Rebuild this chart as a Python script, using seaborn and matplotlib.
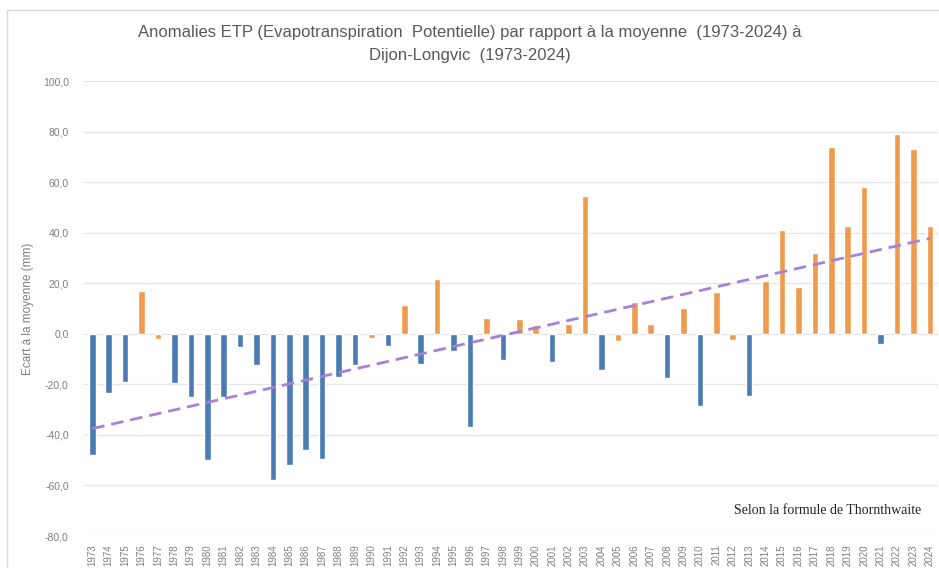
import seaborn as sns
import matplotlib.pyplot as plt
import matplotlib.patches as mpatches
import pandas as pd
import numpy as np

# ETP anomalies (mm) vs 1973-2024 mean, Dijon-Longvic
years = list(range(1973, 2025))
anomalies = [-48, -23.5, -19, 17, -2, -19.5, -25, -50, -25, -5,
             -12.5, -57.7, -52, -46, -49.5, -17, -12.5, -1.5, -4.7, 11.5,
             -12, 21.7, -6.7, -36.8, 6.3, -10.3, 6, 3.7, -11, 4,
             54.5, -14.3, -3, 12.6, 4, -17.5, 10.2, -28.5, 16.5, -2.5,
             -24.5, 21, 41, 18.6, 32, 74, 42.6, 58, -4, 79,
             73, 42.6]
# colour group as in the original (a few small negatives are drawn orange)
orange_years = [1976, 1977, 1990, 1992, 1994, 1997, 1999, 2000, 2002, 2003,
                2005, 2006, 2007, 2009, 2011, 2012, 2014, 2015, 2016, 2017,
                2018, 2019, 2020, 2022, 2023, 2024]

df = pd.DataFrame({'year': [str(y) for y in years], 'ecart': anomalies})
df['groupe'] = ['chaud' if y in orange_years else 'frais' for y in years]
df['pos'] = np.arange(len(df))

sns.set_theme(style="white")
plt.rcParams['font.family'] = ['Liberation Sans Narrow', 'Liberation Sans', 'DejaVu Sans']

fig = plt.figure(figsize=(9.39, 5.68), dpi=100)
ax = fig.add_axes([0.0895, 0.0563, 0.9095, 0.8007])

# grid behind bars
for v in np.arange(-80, 101, 20):
    ax.axhline(v, color='#e4e4e4', lw=0.9, zorder=0)

sns.barplot(data=df, x='year', y='ecart', hue='groupe',
            palette={'chaud': '#ef9b4f', 'frais': '#4b7bb3'}, saturation=1,
            dodge=False, width=0.4, legend=False, ax=ax, zorder=2)

# linear trend line
sns.regplot(data=df, x='pos', y='ecart', scatter=False, ci=None, ax=ax,
            line_kws=dict(color='#a880d8', lw=2, ls=(0, (4.5, 2.5)), zorder=3))

ax.set_ylim(-80, 100)
ax.set_xlim(-0.5, len(df) - 0.5)
ax.set_yticks(np.arange(-80, 101, 20))
ax.set_yticklabels([f"{v:.1f}".replace('.', ',') for v in np.arange(-80, 101, 20)],
                   fontsize=7.5, color='#7f7f7f')
ax.set_xticks(range(len(df)))
ax.set_xticklabels(df['year'], rotation=90, fontsize=7, color='#7f7f7f')
ax.tick_params(axis='y', length=0, pad=11)
ax.tick_params(axis='x', length=0, pad=6)
ax.set_xlabel('')
ax.set_ylabel('Ecart à la moyenne (mm)', fontsize=8.5, color='#7f7f7f', labelpad=6)
for s in ax.spines.values():
    s.set_visible(False)

fig.text(0.5, 0.942, 'Anomalies ETP (Evapotranspiration  Potentielle) par rapport à la moyenne  (1973-2024) à',
         ha='center', va='center', fontsize=12, color='#595959')
fig.text(0.5, 0.903, 'Dijon-Longvic  (1973-2024)', ha='center', va='center',
         fontsize=12, color='#595959')
ax.text(0.98, 0.057, 'Selon la formule de Thornthwaite', transform=ax.transAxes,
        ha='right', va='center', fontsize=10, color='#222222',
        family=['Liberation Serif', 'DejaVu Serif'])

# light frame of the chart area (top and left edges)
fig.add_artist(mpatches.Rectangle((0.007, -0.1), 1.2, 1.082, transform=fig.transFigure,
                                  fill=False, ec='#d9d9d9', lw=1))

fig.savefig('out.png', dpi=100)
